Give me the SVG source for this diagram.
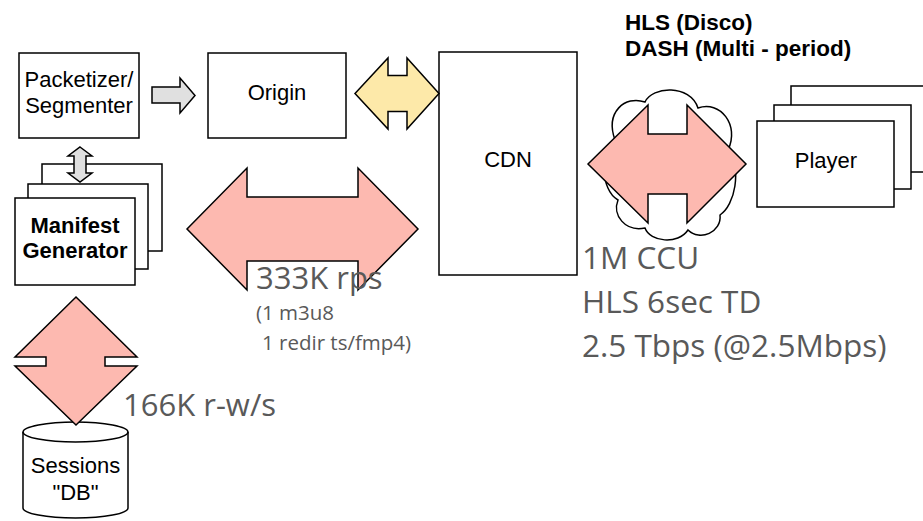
<svg xmlns="http://www.w3.org/2000/svg" width="923" height="521" viewBox="0 0 923 521">
  <style>
    .box { fill: #fff; stroke: #000; stroke-width: 1.5; }
    .lbl { font-family: "Liberation Sans", Arial, sans-serif; font-size: 22px; fill: #000; text-anchor: middle; }
    .bold { font-weight: bold; }
    .stat { font-family: "Open Sans", "Liberation Sans", sans-serif; fill: #595959; }
    .gray { fill: #e0e0e0; stroke: #000; stroke-width: 1.5; stroke-linejoin: miter; }
    .red { fill: #fdb9b0; stroke: #000; stroke-width: 1.5; stroke-linejoin: miter; }
    .yellow { fill: #fde9a9; stroke: #000; stroke-width: 1.5; stroke-linejoin: miter; }
  </style>

  <rect width="923" height="521" fill="#fff"/>

  <!-- Packetizer / Segmenter -->
  <g id="packetizer">
    <rect class="box" x="19" y="53" width="120" height="85"/>
    <text class="lbl" x="79" y="87">Packetizer/</text>
    <text class="lbl" x="79" y="113">Segmenter</text>
  </g>

  <!-- Origin -->
  <g id="origin">
    <rect class="box" x="208" y="53" width="138" height="85"/>
    <text class="lbl" x="277" y="100">Origin</text>
  </g>

  <!-- CDN -->
  <g id="cdn">
    <rect class="box" x="439" y="52" width="138" height="223"/>
    <text class="lbl" x="508" y="167">CDN</text>
  </g>

  <!-- Manifest generator (stacked instances) -->
  <g id="manifest-generator">
    <rect class="box" x="42" y="164" width="120" height="87"/>
    <rect class="box" x="28" y="184" width="120" height="85"/>
    <rect class="box" x="15" y="198" width="120" height="87"/>
    <text class="lbl bold" x="75" y="233">Manifest</text>
    <text class="lbl bold" x="75" y="258">Generator</text>
  </g>

  <!-- Sessions store -->
  <g id="sessions-db">
    <path class="box" d="M23,432 A52.5,10 0 0 1 128,432 V508 A52.5,10 0 0 1 23,508 Z"/>
    <path d="M23,432 A52.5,10 0 0 0 128,432" fill="none" stroke="#000" stroke-width="1.5"/>
    <text class="lbl" x="75.5" y="473">Sessions</text>
    <text class="lbl" x="75.5" y="500">"DB"</text>
  </g>

  <!-- Internet cloud -->
  <g id="internet">
    <path class="box" d="M615,140 C605,112 625,95 645,102 C652,86 690,84 698,108 C720,100 740,125 728,150 C742,170 735,205 720,215 C722,232 700,242 688,230 C678,245 650,242 645,228 C625,232 612,215 618,200 C600,190 600,150 615,140 Z"/>
  </g>

  <!-- Player (stacked instances) -->
  <g id="player">
    <rect class="box" x="791" y="86" width="140" height="86"/>
    <rect class="box" x="774" y="105" width="137" height="84"/>
    <rect class="box" x="757" y="121" width="137" height="86"/>
    <text class="lbl" x="826" y="168">Player</text>
  </g>

  <!-- Connectors -->
  <g id="connectors">
    <!-- packetizer to origin -->
    <path class="gray" d="M152,87 H180 V78 L195,95.5 L180,113 V103 H152 Z"/>
    <!-- packetizer to manifest generator -->
    <path class="gray" d="M80,147 L92,156 H86 V173 H92 L80,182 L68,173 H74 V156 H68 Z"/>
    <!-- origin to CDN -->
    <path class="yellow" d="M355,93.5 L388,58 V75.5 H407 V58 L439,93.5 L407,129 V111.5 H388 V129 Z"/>
    <!-- manifest generator to CDN -->
    <path class="red" d="M187,229 L247,168 V197 H358 V168 L418,229 L358,290 V261 H247 V290 Z"/>
    <!-- CDN to players -->
    <path class="red" d="M588,164 L648,105 V134 H687 V105 L746,164 L687,223 V194 H648 V223 Z"/>
    <!-- manifest generator to sessions store -->
    <path class="red" d="M76,297 L137,357 H105 V366 H137 L76,425 L15,366 H46 V357 H15 Z"/>
  </g>

  <!-- Protocol annotation -->
  <text class="lbl bold" x="625" y="30" style="text-anchor:start;font-size:22.5px">HLS (Disco)</text>
  <text class="lbl bold" x="625" y="56" style="text-anchor:start;font-size:22.5px">DASH (Multi - period)</text>

  <!-- Load figures -->
  <text class="stat" x="256" y="289" font-size="31">333K rps</text>
  <text class="stat" x="256" y="320" font-size="20.5">(1 m3u8</text>
  <text class="stat" x="262" y="350" font-size="20.5">1 redir ts/fmp4)</text>
  <text class="stat" x="123" y="416" font-size="31">166K r-w/s</text>
  <text class="stat" x="582" y="269" font-size="31.5">1M CCU</text>
  <text class="stat" x="582" y="313" font-size="31.5">HLS 6sec TD</text>
  <text class="stat" x="582" y="357" font-size="31.5">2.5 Tbps (@2.5Mbps)</text>
</svg>
